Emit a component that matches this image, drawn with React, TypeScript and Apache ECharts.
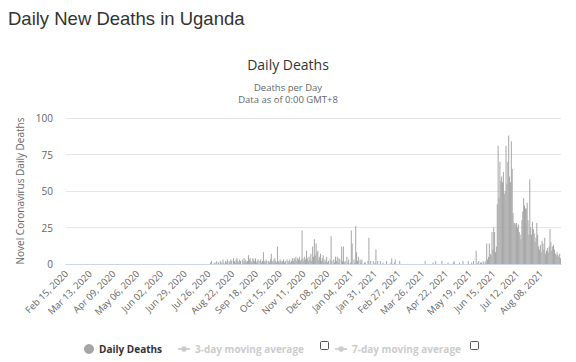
import React, { useEffect, useRef } from "react";
import * as echarts from "echarts";

// Daily deaths by month, starting Feb 15, 2020
const deathsFeb2020 = [0, 0, 0, 0, 0, 0, 0, 0, 0, 0, 0, 0, 0, 0, 0];
const deathsMar2020 = [0, 0, 0, 0, 0, 0, 0, 0, 0, 0, 0, 0, 0, 0, 0, 0, 0, 0, 0, 0, 0, 0, 0, 0, 0, 0, 0, 0, 0, 0, 0];
const deathsApr2020 = [0, 0, 0, 0, 0, 0, 0, 0, 0, 0, 0, 0, 0, 0, 0, 0, 0, 0, 0, 0, 0, 0, 0, 0, 0, 0, 0, 0, 0, 0];
const deathsMay2020 = [0, 0, 0, 0, 0, 0, 0, 0, 0, 0, 0, 0, 0, 0, 0, 0, 0, 0, 0, 0, 0, 0, 0, 0, 0, 0, 0, 0, 0, 0, 0];
const deathsJun2020 = [0, 0, 0, 0, 0, 0, 0, 0, 0, 0, 0, 0, 0, 0, 0, 0, 0, 0, 0, 0, 0, 0, 0, 0, 0, 0, 0, 0, 0, 0];
const deathsJul2020 = [0, 0, 0, 0, 0, 0, 0, 0, 0, 0, 0, 0, 0, 0, 0, 0, 0, 0, 0, 0, 0, 0, 0, 0, 0, 0, 0, 1, 2, 0, 0];
const deathsAug2020 = [1, 0, 1, 2, 0, 1, 0, 2, 1, 0, 3, 1, 0, 2, 1, 3, 0, 2, 1, 3, 2, 0, 4, 2, 1, 3, 4, 2, 1, 3, 2];
const deathsSep2020 = [0, 3, 1, 4, 2, 3, 1, 2, 6, 3, 4, 2, 1, 4, 3, 2, 4, 1, 2, 3, 0, 2, 3, 1, 2, 8, 2, 1, 3, 2];
const deathsOct2020 = [0, 2, 1, 3, 7, 2, 1, 3, 4, 2, 1, 12, 2, 1, 3, 2, 1, 2, 3, 1, 2, 0, 3, 1, 2, 3, 1, 2, 4, 2, 4];
const deathsNov2020 = [3, 5, 2, 4, 3, 5, 2, 3, 23, 4, 2, 5, 3, 9, 4, 2, 5, 3, 7, 2, 12, 5, 17, 6, 14, 8, 9, 3, 5, 7];
const deathsDec2020 = [2, 4, 6, 1, 3, 2, 5, 1, 2, 0, 3, 19, 2, 0, 3, 1, 5, 2, 5, 1, 4, 3, 0, 12, 2, 12, 1, 2, 0, 5, 1];
const deathsJan2021 = [3, 0, 1, 23, 14, 0, 3, 1, 26, 8, 2, 5, 0, 3, 1, 3, 0, 0, 1, 1, 0, 0, 2, 18, 0, 2, 0, 0, 2, 0, 1];
const deathsFeb2021 = [10, 0, 2, 0, 0, 2, 0, 0, 1, 0, 0, 0, 2, 0, 0, 0, 0, 1, 4, 0, 0, 1, 3, 0, 0, 0, 0, 2];
const deathsMar2021 = [0, 0, 0, 0, 0, 0, 0, 0, 0, 0, 0, 0, 0, 0, 0, 0, 0, 0, 0, 0, 0, 0, 0, 0, 0, 0, 0, 0, 2, 0, 0];
const deathsApr2021 = [0, 0, 0, 0, 0, 0, 1, 0, 0, 2, 0, 0, 0, 0, 0, 0, 2, 0, 0, 0, 0, 0, 0, 1, 0, 0, 0, 0, 0, 1];
const deathsMay2021 = [2, 0, 0, 0, 0, 0, 1, 0, 0, 0, 2, 0, 0, 0, 0, 0, 2, 0, 0, 0, 1, 0, 2, 0, 0, 9, 0, 1, 2, 0, 1];
const deathsJun2021 = [1, 0, 2, 1, 0, 2, 14, 3, 5, 14, 7, 6, 22, 10, 25, 22, 8, 12, 41, 81, 45, 70, 57, 60, 56, 63, 48, 50, 81, 55];
const deathsJul2021 = [70, 88, 60, 56, 84, 65, 35, 28, 28, 27, 28, 25, 27, 22, 20, 17, 30, 36, 45, 40, 38, 38, 42, 30, 20, 58, 25, 20, 29, 24, 21];
const deathsAug2021 = [15, 18, 28, 20, 12, 10, 13, 8, 16, 14, 10, 18, 7, 9, 11, 8, 12, 24, 15, 9, 12, 13, 10, 7, 6, 8, 6, 5, 7, 4];

const dailyDeaths = [
  ...deathsFeb2020, ...deathsMar2020, ...deathsApr2020, ...deathsMay2020, ...deathsJun2020,
  ...deathsJul2020, ...deathsAug2020, ...deathsSep2020, ...deathsOct2020, ...deathsNov2020,
  ...deathsDec2020, ...deathsJan2021, ...deathsFeb2021, ...deathsMar2021, ...deathsApr2021,
  ...deathsMay2021, ...deathsJun2021, ...deathsJul2021, ...deathsAug2021,
];

const startYear = 2020;
const startMonth = 1; // February (0-based)
const startDay = 15;
const monthNames = ["Jan", "Feb", "Mar", "Apr", "May", "Jun", "Jul", "Aug", "Sep", "Oct", "Nov", "Dec"];

const dateLabels = dailyDeaths.map((_, i) => {
  const d = new Date(Date.UTC(startYear, startMonth, startDay + i));
  const day = String(d.getUTCDate()).padStart(2, "0");
  return `${monthNames[d.getUTCMonth()]} ${day}, ${d.getUTCFullYear()}`;
});

const yTicks = [0, 25, 50, 75, 100];

const FONT = "'Open Sans', sans-serif";

export default function App() {
  const ref = useRef<HTMLDivElement>(null);
  useEffect(() => {
    document.body.style.margin = "0";
    if (!ref.current) return;
    const chart = echarts.init(ref.current, null, { renderer: "svg" });
    const legendText = { fontFamily: FONT, fontSize: 10, fontWeight: "bold", color: "#333333" };
    chart.setOption({
      animation: false,
      backgroundColor: "#ffffff",
      textStyle: { fontFamily: FONT },
      title: [
        {
          text: "Daily New Deaths in Uganda",
          left: 3,
          top: 4,
          textStyle: { fontFamily: "'Liberation Sans', Arial, sans-serif", fontSize: 18.5, fontWeight: "normal", color: "#333333" },
        },
        {
          text: "Daily Deaths",
          left: "center",
          top: 52,
          textStyle: { fontFamily: FONT, fontSize: 14, fontWeight: "normal", color: "#333333" },
        },
        {
          text: "Deaths per Day",
          left: "center",
          top: 77,
          textStyle: { fontFamily: FONT, fontSize: 9.5, lineHeight: 10, fontWeight: "normal", color: "#666666" },
        },
        {
          text: "Data as of 0:00 GMT+8",
          left: "center",
          top: 89,
          textStyle: { fontFamily: FONT, fontSize: 9.5, lineHeight: 10, fontWeight: "normal", color: "#666666" },
        },
      ],
      legend: [
        {
          data: [{ name: "Daily Deaths", icon: "circle" }],
          left: 79,
          top: 339,
          itemWidth: 10,
          itemHeight: 10,
          textStyle: legendText,
        },
        {
          data: ["3-day moving average"],
          left: 172,
          top: 339,
          itemWidth: 12,
          itemHeight: 7,
          inactiveColor: "#cccccc",
          selected: { "3-day moving average": false },
          textStyle: legendText,
        },
        {
          data: ["7-day moving average"],
          left: 329,
          top: 339,
          itemWidth: 12,
          itemHeight: 7,
          inactiveColor: "#cccccc",
          selected: { "7-day moving average": false },
          textStyle: legendText,
        },
      ],
      grid: { left: 66, right: 15, top: 118, bottom: 98, containLabel: false },
      xAxis: {
        type: "category",
        data: dateLabels,
        boundaryGap: true,
        axisLine: { show: true, lineStyle: { color: "#ccd6eb" } },
        axisTick: { show: false },
        axisLabel: {
          interval: 26,
          rotate: 45,
          margin: 8,
          fontSize: 9.5,
          color: "#666666",
          fontFamily: FONT,
        },
        splitLine: { show: false },
      },
      yAxis: {
        type: "value",
        min: yTicks[0],
        max: yTicks[yTicks.length - 1],
        interval: 25,
        name: "Novel Coronavirus Daily Deaths",
        nameLocation: "middle",
        nameGap: 25,
        nameTextStyle: { fontFamily: FONT, fontSize: 10, color: "#666666" },
        axisLine: { show: false },
        axisTick: { show: false },
        axisLabel: { margin: 13, fontSize: 10, color: "#666666", fontFamily: FONT },
        splitLine: { lineStyle: { color: "#e6e6e6" } },
      },
      series: [
        {
          name: "Daily Deaths",
          type: "bar",
          data: dailyDeaths,
          itemStyle: { color: "#a6a6a6" },
          barCategoryGap: "20%",
        },
        {
          name: "3-day moving average",
          type: "line",
          symbol: "circle",
          data: [],
          itemStyle: { color: "#cccccc" },
        },
        {
          name: "7-day moving average",
          type: "line",
          symbol: "circle",
          data: [],
          itemStyle: { color: "#cccccc" },
        },
      ],
      graphic: [
        {
          type: "rect",
          shape: { x: 320.5, y: 341.5, width: 8, height: 8, r: 1 },
          style: { fill: "#ffffff", stroke: "#555555", lineWidth: 1 },
        },
        {
          type: "rect",
          shape: { x: 470.5, y: 341.5, width: 8, height: 8, r: 1 },
          style: { fill: "#ffffff", stroke: "#555555", lineWidth: 1 },
        },
      ],
    });
    return () => chart.dispose();
  }, []);
  return <div ref={ref} style={{ width: 576, height: 362 }} />;
}
